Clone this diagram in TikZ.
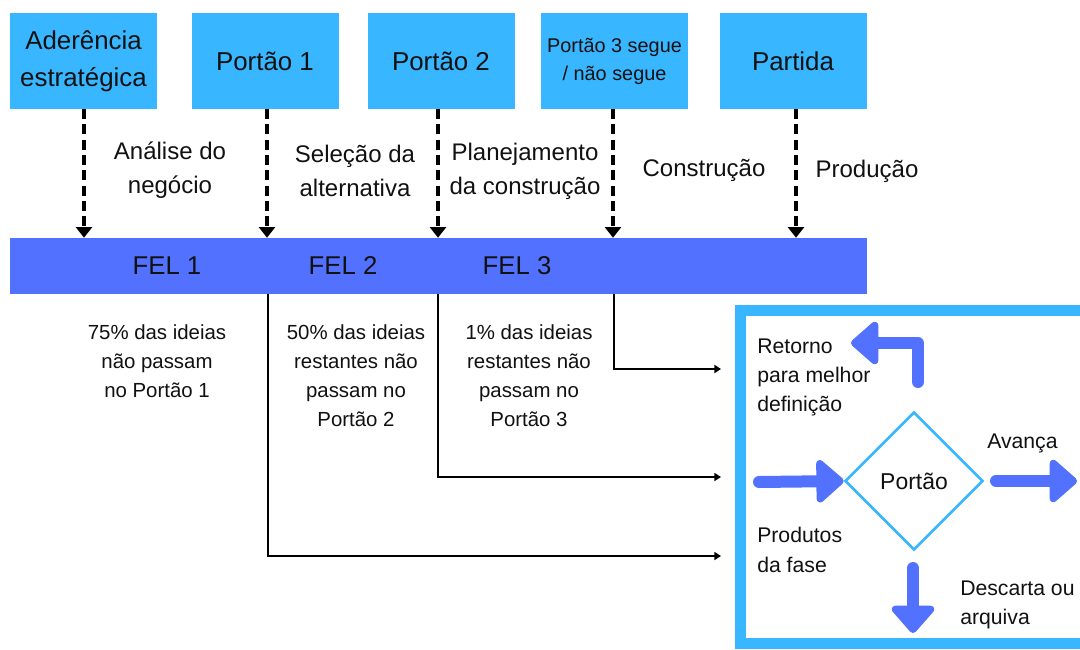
\documentclass[tikz,border=0pt]{standalone}
\usepackage{fontspec}
\setmainfont{Liberation Sans}
\usetikzlibrary{arrows.meta,shapes.geometric}
\definecolor{lblue}{HTML}{38B6FF}
\definecolor{felblue}{HTML}{5271FF}
\definecolor{ink}{HTML}{111111}
\newcommand\myfs[2]{\fontsize{#1}{#2}\selectfont}
\begin{document}
\begin{tikzpicture}[x=0.75pt,y=-0.75pt,
  gatebox/.style={fill=lblue, minimum width=110.25pt, minimum height=72pt, inner sep=0pt, align=center, text=ink, font=\myfs{19.4pt}{27.5pt}},
  phaselbl/.style={align=center, text=ink, font=\myfs{18pt}{25.5pt}},
  fellbl/.style={text=ink, font=\myfs{19.3pt}{23pt}},
  notelbl/.style={align=center, text=ink, font=\myfs{15.3pt}{21.8pt}},
  panellbl/.style={align=left, anchor=west, inner sep=0pt, text=ink, font=\myfs{15.9pt}{22pt}},
  dasharrow/.style={draw=black, line width=2.3pt, dash pattern=on 7.5pt off 4pt, -{Triangle[width=12pt,length=8pt]}},
  conn/.style={draw=black, line width=1.5pt, -{Triangle[width=6pt,length=5pt]}},
  fat/.style={draw=felblue, line width=9pt, line cap=round, line join=round, -{Triangle[width=37pt,length=22pt,round]}}
]
\path[use as bounding box, fill=white] (0,0) rectangle (1080,649);

% top gate boxes
\node[gatebox] (b0) at (83.5,61) {Aderência\\estratégica};
\node[gatebox] (b1) at (265,61) {Portão 1};
\node[gatebox] (b2) at (441,61) {Portão 2};
\node[gatebox, font=\myfs{14.9pt}{21pt}] (b3) at (614.5,61) {Portão 3 segue\\/ não segue};
\node[gatebox] (b4) at (793,61) {Partida};

% FEL bar
\node[fill=felblue, minimum width=642.75pt, minimum height=42pt, inner sep=0pt] (bar) at (438.5,266) {};
\node[fellbl] (f1) at (167,266) {FEL 1};
\node[fellbl] (f2) at (343,266) {FEL 2};
\node[fellbl] (f3) at (517,266) {FEL 3};

% dashed arrows
\draw[dasharrow] (84,109) -- (84,0 |- bar.north);
\draw[dasharrow] (267,109) -- (267,0 |- bar.north);
\draw[dasharrow] (438,109) -- (438,0 |- bar.north);
\draw[dasharrow] (613,109) -- (613,0 |- bar.north);
\draw[dasharrow] (796,109) -- (796,0 |- bar.north);

% phase labels
\node[phaselbl] (l1) at (170,170) {Análise do\\negócio};
\node[phaselbl] (l2) at (355,171) {Seleção da\\alternativa};
\node[phaselbl] (l3) at (525,171) {Planejamento\\da construção};
\node[phaselbl] (l4) at (704,170) {Construção};
\node[phaselbl] (l5) at (867,171) {Produção};

% notes
\node[notelbl] (n1) at (157,361) {75\% das ideias\\não passam\\no Portão 1};
\node[notelbl] (n2) at (356,375.5) {50\% das ideias\\restantes não\\passam no\\Portão 2};
\node[notelbl] (n3) at (529,375.5) {1\% das ideias\\restantes não\\passam no\\Portão 3};

% connectors to panel
\coordinate (e1) at (721,556);
\coordinate (e2) at (721,477);
\coordinate (e3) at (721,369);
\draw[conn] (268,0 |- bar.south) |- (e1);
\draw[conn] (438,0 |- bar.south) |- (e2);
\draw[conn] (614,0 |- bar.south) |- (e3);

% panel
\draw[lblue, line width=8.25pt] (1100,310.5) -- (740.5,310.5) -- (740.5,643.5) -- (1100,643.5);

\node[diamond, draw=lblue, line width=2pt, minimum width=103.5pt, minimum height=103.5pt, inner sep=0pt, text=ink, font=\myfs{17.2pt}{20pt}] (gate) at (914,481) {Portão};

\coordinate (inS) at (759,482);
\coordinate (outS) at (996,481);
\coordinate (outE) at (1077,481);
\coordinate (dnS) at (913,568);
\coordinate (dnE) at (913,633);
\coordinate (rtS) at (918,382);
\coordinate (rtC) at (918,343);
\coordinate (rtE) at (851,343);
\draw[fat] (inS) -- (gate.west);
\draw[fat] (outS) -- (outE);
\draw[fat] (dnS) -- (dnE);
\draw[fat] (rtS) -- (rtC) -- (rtE);

\node[panellbl] (t1) at (757,377.5) {Retorno\\para melhor\\definição};
\node[panellbl] (t2) at (987,443) {Avança};
\node[panellbl] (t3) at (757,550) {Produtos\\da fase};
\node[panellbl] (t4) at (960,605) {Descarta ou\\arquiva};
\end{tikzpicture}
\end{document}
